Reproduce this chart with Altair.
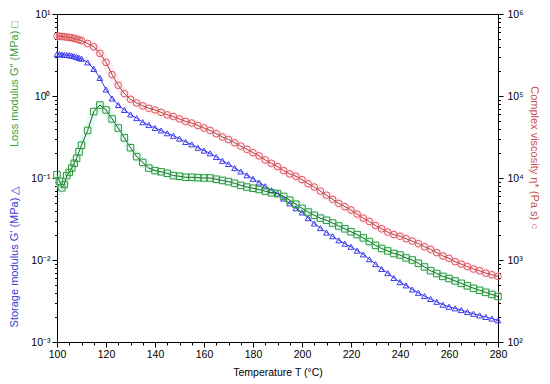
import altair as alt
import pandas as pd

# Temperature (°C)
temperature = [100, 101, 102, 103, 104, 105, 106, 107, 108, 109, 110,
               112.5, 115, 117.5, 120, 122.5, 125, 127.5, 130, 132.5, 135, 137.5,
               140, 142.5, 145, 147.5, 150, 152.5, 155, 157.5, 160, 162.5, 165, 167.5,
               170, 172.5, 175, 177.5, 180, 182.5, 185, 187.5, 190, 192.5, 195, 197.5,
               200, 202.5, 205, 207.5, 210, 212.5, 215, 217.5, 220, 222.5, 225, 227.5,
               230, 232.5, 235, 237.5, 240, 242.5, 245, 247.5, 250, 252.5, 255, 257.5,
               260, 262.5, 265, 267.5, 270, 272.5, 275, 277.5, 280]

# Storage modulus G' (MPa)
storage_modulus = [3.24, 3.24, 3.20, 3.18, 3.16, 3.14, 3.11, 3.05, 2.99, 2.92, 2.85,
                   2.57, 2.14, 1.66, 1.20, 0.933, 0.776, 0.676, 0.596, 0.537, 0.479, 0.442,
                   0.407, 0.380, 0.351, 0.327, 0.302, 0.275, 0.257, 0.234, 0.216, 0.200, 0.180, 0.162,
                   0.148, 0.132, 0.120, 0.108, 0.0977, 0.0881, 0.0794, 0.0708, 0.0646, 0.0562, 0.0490, 0.0427,
                   0.0380, 0.0324, 0.0279, 0.0245, 0.0216, 0.0195, 0.0174, 0.0158, 0.0145, 0.0130, 0.0117, 0.0102,
                   0.00891, 0.00776, 0.00692, 0.00603, 0.00537, 0.00490, 0.00437, 0.00398, 0.00363, 0.00335, 0.00309, 0.00285,
                   0.00269, 0.00257, 0.00245, 0.00232, 0.00221, 0.00211, 0.00202, 0.00193, 0.00184]

# Loss modulus G'' (MPa)
loss_modulus = [0.110, 0.0912, 0.0759, 0.0832, 0.107, 0.117, 0.132, 0.151, 0.174, 0.209, 0.251,
                0.380, 0.646, 0.776, 0.676, 0.525, 0.407, 0.309, 0.234, 0.182, 0.155, 0.132,
                0.123, 0.119, 0.114, 0.107, 0.105, 0.102, 0.102, 0.101, 0.100, 0.100, 0.0966, 0.0933,
                0.0902, 0.0861, 0.0813, 0.0776, 0.0750, 0.0724, 0.0692, 0.0661, 0.0646, 0.0596, 0.0537, 0.0479,
                0.0427, 0.0385, 0.0351, 0.0324, 0.0305, 0.0282, 0.0260, 0.0240, 0.0221, 0.0204, 0.0186, 0.0168,
                0.0151, 0.0138, 0.0129, 0.0120, 0.0115, 0.0106, 0.0100, 0.00912, 0.00822, 0.00741, 0.00684, 0.00631,
                0.00596, 0.00556, 0.00519, 0.00484, 0.00452, 0.00427, 0.00403, 0.00380, 0.00359]

# Complex viscosity eta* (Pa s)
complex_viscosity = [537000, 535000, 531000, 527000, 522000, 518000, 513000, 504000, 495000, 484000, 473000,
                     437000, 398000, 331000, 257000, 182000, 135000, 107000, 91200, 82200, 75900, 70800,
                     67600, 63100, 58900, 56200, 52500, 49000, 46800, 43700, 40700, 38000, 34700, 31600,
                     29500, 26900, 24500, 22400, 20400, 18600, 16600, 15100, 13800, 12300, 11200, 10500,
                     9550, 8510, 7760, 6920, 6170, 5500, 4900, 4470, 4070, 3630, 3240, 2950,
                     2630, 2400, 2190, 2040, 1950, 1820, 1700, 1580, 1450, 1350, 1230, 1120,
                     1050, 955, 891, 832, 776, 741, 692, 661, 631]

x_ticks = list(range(100, 281, 5))
left_ticks = [round(k * 10.0 ** d, 6) for d in range(-3, 1) for k in range(1, 10)] + [10]
right_ticks = [round(k * 10.0 ** d) for d in range(2, 6) for k in range(1, 10)] + [1000000]

df_g1 = pd.DataFrame({"T": temperature, "value": storage_modulus})
df_g2 = pd.DataFrame({"T": temperature, "value": loss_modulus})
df_eta = pd.DataFrame({"T": temperature, "value": complex_viscosity})

FONT = "Liberation Sans"

x_enc = alt.X(
    "T:Q",
    scale=alt.Scale(domain=[100, 280], nice=False, zero=False),
    axis=alt.Axis(
        values=x_ticks,
        labelExpr="datum.value % 20 == 0 ? datum.label : ''",
        tickSize={"condition": {"test": "datum.value % 20 == 0", "value": 5}, "value": 3},
        labelFlush=False,
        labelOverlap=False,
        labelPadding=2,
        titlePadding=8,
        title="Temperature T (°C)",
    ),
)

left_major = "indexof([0.001, 0.01, 0.1, 1, 10], datum.value) >= 0"
y_left = alt.Y(
    "value:Q",
    scale=alt.Scale(type="log", domain=[0.001, 10], nice=False),
    axis=alt.Axis(
        values=left_ticks,
        labelExpr=("datum.value == 0.001 ? '10⁻³' : datum.value == 0.01 ? '10⁻²' : "
                   "datum.value == 0.1 ? '10⁻¹' : datum.value == 1 ? '10⁰' : "
                   "datum.value == 10 ? '10¹' : ''"),
        tickSize={"condition": {"test": left_major, "value": 5}, "value": 2.5},
        labelOverlap=False,
        labelFlush=False,
        labelPadding=2,
        title=None,
    ),
)

right_major = "indexof([100, 1000, 10000, 100000, 1000000], datum.value) >= 0"
y_right = alt.Y(
    "value:Q",
    scale=alt.Scale(type="log", domain=[100, 1000000], nice=False),
    axis=alt.Axis(
        orient="right",
        values=right_ticks,
        labelExpr=("datum.value == 100 ? '10²' : datum.value == 1000 ? '10³' : "
                   "datum.value == 10000 ? '10⁴' : datum.value == 100000 ? '10⁵' : "
                   "datum.value == 1000000 ? '10⁶' : ''"),
        tickSize={"condition": {"test": right_major, "value": 5}, "value": 2.5},
        labelOverlap=False,
        labelFlush=False,
        labelPadding=4,
        title=None,
    ),
)

BLUE = "#3a3af0"
GREEN = "#2f9a3a"
GREEN_LINE = "#205a25"
RED = "#e0555a"
RED_LINE = "#9a4a3a"

g1_line = alt.Chart(df_g1).mark_line(color=BLUE, strokeWidth=1).encode(x=x_enc, y=y_left)
g1_pts = alt.Chart(df_g1).mark_point(shape="triangle-up", filled=False, color=BLUE,
                                     size=34, strokeWidth=1, opacity=1).encode(x=x_enc, y=y_left)
g2_halo = alt.Chart(df_g2).mark_line(color="#d2f8ec", strokeWidth=9, opacity=0.6).encode(x=x_enc, y=y_left)
g2_line = alt.Chart(df_g2).mark_line(color=GREEN_LINE, strokeWidth=1).encode(x=x_enc, y=y_left)
g2_pts = alt.Chart(df_g2).mark_point(shape="square", filled=False, color=GREEN,
                                     size=42, strokeWidth=1, opacity=1).encode(x=x_enc, y=y_left)

eta_halo = alt.Chart(df_eta).mark_line(color="#ffe0ec", strokeWidth=9, opacity=0.6).encode(x=x_enc, y=y_right)
eta_line = alt.Chart(df_eta).mark_line(color=RED_LINE, strokeWidth=1).encode(x=x_enc, y=y_right)
eta_pts = alt.Chart(df_eta).mark_point(shape="circle", filled=False, color=RED,
                                       size=44, strokeWidth=1, opacity=1).encode(x=x_enc, y=y_right)

left_layer = alt.layer(g2_halo, g1_line, g1_pts, g2_line, g2_pts)
right_layer = alt.layer(eta_halo, eta_line, eta_pts)

title_df_g1 = pd.DataFrame({"t": ["Storage modulus G′ (MPa) △"]})
title_df_g2 = pd.DataFrame({"t": ["Loss modulus G″ (MPa) □"]})
title_df_eta = pd.DataFrame({"t": ["Complex viscosity η* (Pa s) ○"]})

t_g1 = alt.Chart(title_df_g1).mark_text(angle=270, color="#3a3ad0", font=FONT, fontSize=11,
                                        align="center", baseline="middle").encode(
    x=alt.value(-42), y=alt.value(243), text="t:N")
t_g2 = alt.Chart(title_df_g2).mark_text(angle=270, color="#3aa03a", font=FONT, fontSize=11,
                                        align="center", baseline="middle").encode(
    x=alt.value(-42), y=alt.value(70), text="t:N")
t_eta = alt.Chart(title_df_eta).mark_text(angle=90, color="#c8504a", font=FONT, fontSize=11,
                                          align="center", baseline="middle").encode(
    x=alt.value(477), y=alt.value(144), text="t:N")

chart = alt.layer(right_layer, left_layer, t_g1, t_g2, t_eta).resolve_scale(
    y="independent"
).properties(
    width=441,
    height=328,
    padding={"left": 49, "top": 6, "right": 44, "bottom": 36},
    autosize=alt.AutoSizeParams(type="none"),
).configure_axis(
    labelFont=FONT,
    titleFont=FONT,
    labelFontSize=10.5,
    titleFontSize=10.5,
    titleFontWeight="normal",
    domainColor="black",
    tickColor="black",
    labelColor="black",
    titleColor="black",
    grid=False,
).configure_view(stroke="black", strokeWidth=1)

chart.save("out.html", embed_options={"renderer": "svg", "actions": False})
